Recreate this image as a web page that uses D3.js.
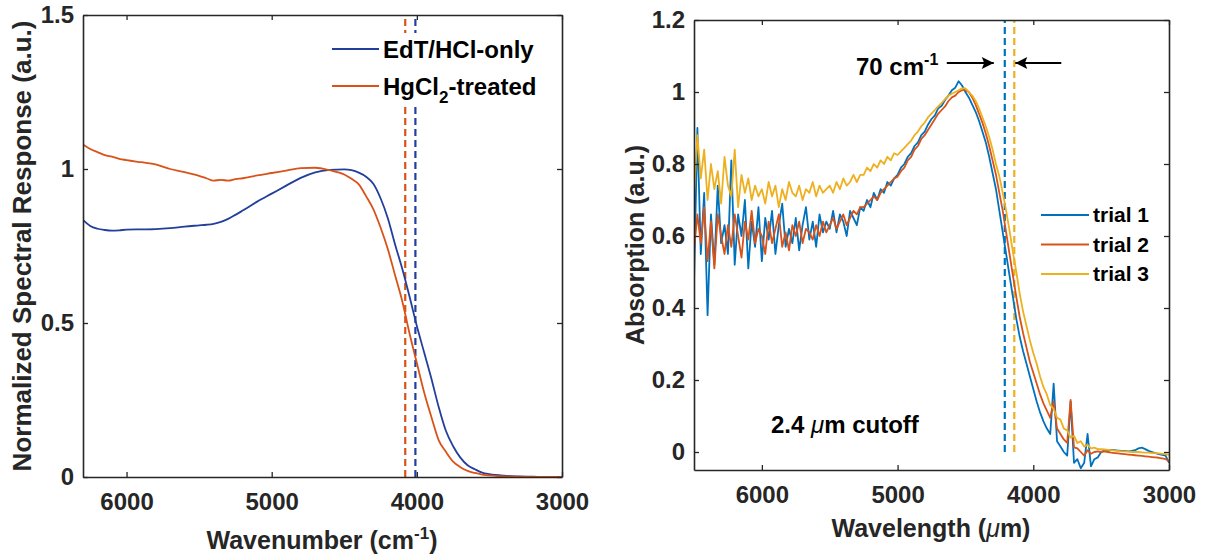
<!DOCTYPE html>
<html>
<head>
<meta charset="utf-8">
<script src="https://cdn.jsdelivr.net/npm/d3@7"></script>
<style>
body { margin: 0; background: white; }
text { font-family: "Liberation Sans", Arial, sans-serif; font-weight: bold; }
</style>
</head>
<body>
<div id="canvas"></div>
<script>
"use strict"

/* ---------- Left panel data (spectral response) ---------- */
let leftWn = [6300, 6250, 6200, 6150, 6100, 6050, 6000, 5900, 5800, 5700,
              5600, 5500, 5450, 5400, 5350, 5300, 5250, 5200, 5100, 5000,
              4900, 4800, 4700, 4600, 4500, 4450, 4400, 4350, 4300, 4250,
              4200, 4150, 4100, 4050, 4000, 3950, 3900, 3850, 3800, 3750,
              3700, 3650, 3600, 3550, 3500, 3400, 3300, 3200, 3100, 3000];

let edtResponse = [0.835, 0.815, 0.806, 0.802, 0.800, 0.801, 0.803, 0.804, 0.805, 0.808,
                   0.813, 0.817, 0.819, 0.822, 0.828, 0.838, 0.851, 0.865, 0.894, 0.920,
                   0.946, 0.971, 0.989, 0.997, 0.999, 0.996, 0.988, 0.975, 0.952, 0.905,
                   0.840, 0.755, 0.675, 0.585, 0.490, 0.405, 0.320, 0.228, 0.150, 0.100,
                   0.063, 0.038, 0.025, 0.014, 0.009, 0.004, 0.002, 0.001, 0.000, 0.000];

let hgResponse = [1.080, 1.065, 1.055, 1.045, 1.040, 1.033, 1.029, 1.022, 1.015, 1.000,
                  0.990, 0.978, 0.970, 0.962, 0.965, 0.962, 0.967, 0.970, 0.979, 0.987,
                  0.995, 1.003, 1.004, 0.996, 0.982, 0.968, 0.950, 0.912, 0.870, 0.810,
                  0.740, 0.655, 0.570, 0.465, 0.370, 0.275, 0.195, 0.120, 0.082, 0.050,
                  0.032, 0.020, 0.013, 0.008, 0.005, 0.002, 0.001, 0.000, 0.000, 0.000];

let leftNames = ["EdT/HCl-only", "HgCl2-treated"];
let leftColors = ["#223f9b", "#d95319"];
let leftCutoffs = [4010, 4080];
let leftXTicks = [6000, 5000, 4000, 3000];
let leftYTicks = [0, 0.5, 1, 1.5];

/* ---------- Right panel data (absorption, 3 trials) ---------- */
let rightWn = d3.range(6500, 2999, -25);

let trial1 = [
  0.47, 0.90, 0.55, 0.72, 0.38, 0.66, 0.52, 0.74, 0.58, 0.63,
  0.55, 0.81, 0.52, 0.66, 0.60, 0.70, 0.51, 0.64, 0.57, 0.68,
  0.53, 0.65, 0.59, 0.67, 0.55, 0.63, 0.69, 0.57, 0.62, 0.58,
  0.65, 0.56, 0.63, 0.68, 0.59, 0.64, 0.57, 0.66, 0.61, 0.64,
  0.62, 0.67, 0.61, 0.66, 0.64, 0.60, 0.67, 0.65, 0.63, 0.68,
  0.67, 0.70, 0.68, 0.72, 0.70, 0.73, 0.72, 0.75, 0.74, 0.76,
  0.77, 0.79, 0.80, 0.82, 0.83, 0.85, 0.86, 0.88, 0.89, 0.91,
  0.925, 0.935, 0.955, 0.962, 0.978, 0.99, 1.005, 1.012, 1.03, 1.018,
  1.00, 0.985, 0.965, 0.945, 0.92, 0.89, 0.86, 0.82, 0.775, 0.73,
  0.67, 0.61, 0.55, 0.49, 0.43, 0.37, 0.32, 0.28, 0.245, 0.21,
  0.175, 0.14, 0.11, 0.085, 0.065, 0.05, 0.19, 0.03, 0.015, 0.0,
  -0.01, 0.14, -0.03, -0.02, -0.045, -0.03, 0.05, -0.04, -0.02, -0.015,
  0.0, 0.005, 0.004, 0.006, 0.005, 0.004, 0.003, 0.003, 0.002, 0.003,
  0.005, 0.01, 0.012, 0.008, 0.003, 0.0, -0.003, -0.006, -0.008, -0.01,
  -0.03];

let trial2 = [
  0.56, 0.66, 0.58, 0.68, 0.53, 0.64, 0.51, 0.66, 0.60, 0.55,
  0.63, 0.57, 0.66, 0.60, 0.54, 0.64, 0.59, 0.67, 0.58, 0.62,
  0.60, 0.55, 0.64, 0.58, 0.62, 0.66, 0.57, 0.61, 0.56, 0.63,
  0.60, 0.64, 0.58, 0.62, 0.61, 0.59, 0.63, 0.60, 0.64, 0.61,
  0.63, 0.65, 0.62, 0.64, 0.66, 0.63, 0.65, 0.67, 0.66, 0.68,
  0.68, 0.69, 0.70, 0.71, 0.70, 0.72, 0.73, 0.74, 0.75, 0.76,
  0.765, 0.78, 0.79, 0.81, 0.82, 0.84, 0.85, 0.87, 0.88, 0.895,
  0.91, 0.925, 0.94, 0.95, 0.96, 0.975, 0.985, 0.99, 1.0, 1.005,
  1.005, 1.0, 0.985, 0.965, 0.94, 0.915, 0.885, 0.85, 0.81, 0.77,
  0.72, 0.67, 0.61, 0.55, 0.49, 0.43, 0.375, 0.33, 0.29, 0.25,
  0.22, 0.19, 0.16, 0.135, 0.115, 0.095, 0.14, 0.065, 0.05, 0.035,
  0.025, 0.145, 0.013, 0.01, 0.0, -0.01, 0.005, -0.005, 0.0, 0.002,
  0.0, 0.002, 0.0, -0.002, -0.003, -0.004, -0.005, -0.006, -0.007, -0.008,
  -0.009, -0.01, -0.011, -0.012, -0.013, -0.014, -0.015, -0.016, -0.018, -0.02,
  -0.025];

let trial3 = [
  0.72, 0.88, 0.76, 0.84, 0.70, 0.80, 0.73, 0.78, 0.69, 0.82,
  0.74, 0.71, 0.84, 0.68, 0.77, 0.72, 0.76, 0.70, 0.74, 0.71,
  0.73, 0.69, 0.75, 0.71, 0.74, 0.68, 0.73, 0.70, 0.75, 0.72,
  0.71, 0.74, 0.70, 0.73, 0.72, 0.75, 0.71, 0.74, 0.72, 0.73,
  0.74, 0.72, 0.75, 0.73, 0.76, 0.74, 0.75, 0.77, 0.75, 0.77,
  0.77, 0.79, 0.78, 0.80, 0.79, 0.81, 0.80, 0.82, 0.81, 0.83,
  0.825, 0.835, 0.845, 0.855, 0.865, 0.88, 0.89, 0.905, 0.915, 0.93,
  0.94, 0.95, 0.96, 0.97, 0.98, 0.99, 0.995, 1.0, 1.005, 1.01,
  1.01, 1.0, 0.99, 0.975, 0.955, 0.93, 0.905, 0.875, 0.84, 0.80,
  0.765, 0.72, 0.67, 0.615, 0.555, 0.50, 0.44, 0.39, 0.35, 0.31,
  0.275, 0.245, 0.21, 0.18, 0.16, 0.13, 0.12, 0.095, 0.09, 0.065,
  0.06, 0.04, 0.045, 0.025, 0.03, 0.015, 0.02, 0.01, 0.012, 0.008,
  0.008, 0.007, 0.006, 0.005, 0.004, 0.003, 0.002, 0.002, 0.001, 0.0,
  0.0, 0.0, -0.001, -0.002, -0.002, -0.003, -0.003, -0.004, -0.005, -0.006,
  -0.008];

let trialNames = ["trial 1", "trial 2", "trial 3"];
let trialColors = ["#0072bd", "#d95319", "#edb120"];
let rightCutoffs = [4210, 4140];
let rightCutoffColors = ["#0072bd", "#edb120"];
let rightXTicks = [6000, 5000, 4000, 3000];
let rightYTicks = [0, 0.2, 0.4, 0.6, 0.8, 1, 1.2];

/* ---------- SVG ---------- */
let drawing = d3.select("#canvas")
    .append("svg")
    .attr("width", 1207)
    .attr("height", 556);

let axisColor = "#262626";

/* helper: box with inward ticks on all four sides */
function drawBox(g, x, y, xTicks, yTicks) {
    let x0 = x.range()[0], x1 = x.range()[1];
    let y0 = y.range()[0], y1 = y.range()[1];

    let bottom = g.append("g")
        .attr("transform", "translate(0," + y0 + ")")
        .call(d3.axisBottom(x).tickValues(xTicks).tickSize(-5).tickSizeOuter(0).tickPadding(16).tickFormat(d => String(d)));
    let top = g.append("g")
        .attr("transform", "translate(0," + y1 + ")")
        .call(d3.axisTop(x).tickValues(xTicks).tickSize(-5).tickSizeOuter(0).tickFormat(""));
    let left = g.append("g")
        .attr("transform", "translate(" + x0 + ",0)")
        .call(d3.axisLeft(y).tickValues(yTicks).tickSize(-5).tickSizeOuter(0).tickPadding(9).tickFormat(d => String(d)));
    let right = g.append("g")
        .attr("transform", "translate(" + x1 + ",0)")
        .call(d3.axisRight(y).tickValues(yTicks).tickSize(-5).tickSizeOuter(0).tickFormat(""));

    [bottom, top, left, right].forEach(a => {
        a.select(".domain").attr("stroke", axisColor).attr("stroke-width", 1.6);
        a.selectAll(".tick line").attr("stroke", axisColor).attr("stroke-width", 1.3);
        a.selectAll("text").attr("fill", axisColor).attr("font-size", 24)
            .style("font-family", "'Liberation Sans', Arial, sans-serif").style("font-weight", "bold");
    });
}

/* ======================= LEFT PANEL ======================= */
let leftX = d3.scaleLinear().domain([6300, 3000]).range([83, 562]);
let leftY = d3.scaleLinear().domain([0, 1.5]).range([477, 15]);

let leftPanel = drawing.append("g");

drawing.append("clipPath").attr("id", "clipLeft")
    .append("rect")
    .attr("x", 83).attr("y", 15).attr("width", 562 - 83).attr("height", 477 - 15);

let leftSeries = [edtResponse, hgResponse];

/* cutoff dashed lines */
leftPanel.selectAll(".cutL")
    .data(leftCutoffs)
    .enter()
    .append("line")
    .attr("x1", d => leftX(d)).attr("x2", d => leftX(d))
    .attr("y1", leftY(0)).attr("y2", leftY(1.5))
    .attr("stroke", (d, i) => leftColors[i])
    .attr("stroke-width", 2.2)
    .attr("stroke-dasharray", "7,4");

/* response curves */
let leftLine = d3.line()
    .x((d, i) => leftX(leftWn[i]))
    .y(d => leftY(d))
    .curve(d3.curveMonotoneX);

leftPanel.append("g").attr("clip-path", "url(#clipLeft)")
    .selectAll("path")
    .data(leftSeries)
    .enter()
    .append("path")
    .attr("d", d => leftLine(d))
    .attr("fill", "none")
    .attr("stroke", (d, i) => leftColors[i])
    .attr("stroke-width", 1.8);

/* legend (white background hides dashed lines) */
let leftLegend = leftPanel.append("g");
leftLegend.append("rect")
    .attr("x", 326).attr("y", 33).attr("width", 230).attr("height", 72)
    .attr("fill", "white");
leftLegend.selectAll(".ll")
    .data(leftNames)
    .enter()
    .append("line")
    .attr("x1", 332).attr("x2", 379)
    .attr("y1", (d, i) => 49 + i * 37).attr("y2", (d, i) => 49 + i * 37)
    .attr("stroke", (d, i) => leftColors[i])
    .attr("stroke-width", 1.8);
leftLegend.append("text")
    .attr("x", 383).attr("y", 58)
    .attr("font-size", 24).attr("fill", "black")
    .text(leftNames[0]);
let hgText = leftLegend.append("text")
    .attr("x", 383).attr("y", 95)
    .attr("font-size", 24).attr("fill", "black");
hgText.append("tspan").text("HgCl");
hgText.append("tspan").attr("dy", 8).attr("font-size", 17).text("2");
hgText.append("tspan").attr("dy", -8).text("-treated");

drawBox(leftPanel, leftX, leftY, leftXTicks, leftYTicks);

/* axis titles */
let leftXTitle = leftPanel.append("text")
    .attr("x", 322).attr("y", 549)
    .attr("text-anchor", "middle")
    .attr("font-size", 25).attr("fill", axisColor);
leftXTitle.append("tspan").text("Wavenumber (cm");
leftXTitle.append("tspan").attr("dy", -10).attr("font-size", 17).text("-1");
leftXTitle.append("tspan").attr("dy", 10).text(")");

leftPanel.append("text")
    .attr("transform", "translate(31,246) rotate(-90)")
    .attr("text-anchor", "middle")
    .attr("font-size", 26).attr("fill", axisColor)
    .text("Normalized Spectral Response (a.u.)");

/* ======================= RIGHT PANEL ======================= */
let rightX = d3.scaleLinear().domain([6500, 3000]).range([694, 1169]);
let rightY = d3.scaleLinear().domain([-0.05, 1.2]).range([470, 20]);

let rightPanel = drawing.append("g");

drawing.append("clipPath").attr("id", "clipRight")
    .append("rect")
    .attr("x", 694).attr("y", 20).attr("width", 1169 - 694).attr("height", 470 - 20);

/* cutoff dashed lines */
rightPanel.selectAll(".cutR")
    .data(rightCutoffs)
    .enter()
    .append("line")
    .attr("x1", d => rightX(d)).attr("x2", d => rightX(d))
    .attr("y1", rightY(0)).attr("y2", rightY(1.2))
    .attr("stroke", (d, i) => rightCutoffColors[i])
    .attr("stroke-width", 2.2)
    .attr("stroke-dasharray", "7,4");

let trials = [trial1, trial2, trial3];

let rightLine = d3.line()
    .x((d, i) => rightX(rightWn[i]))
    .y(d => rightY(d));

rightPanel.append("g").attr("clip-path", "url(#clipRight)")
    .selectAll("path")
    .data(trials)
    .enter()
    .append("path")
    .attr("d", d => rightLine(d))
    .attr("fill", "none")
    .attr("stroke", (d, i) => trialColors[i])
    .attr("stroke-width", 1.8)
    .attr("stroke-linejoin", "round");

/* legend */
let rightLegend = rightPanel.append("g");
rightLegend.append("rect")
    .attr("x", 1034).attr("y", 196).attr("width", 128).attr("height", 94)
    .attr("fill", "white");
rightLegend.selectAll("line")
    .data(trialNames)
    .enter()
    .append("line")
    .attr("x1", 1041).attr("x2", 1089)
    .attr("y1", (d, i) => 215 + i * 29.5).attr("y2", (d, i) => 215 + i * 29.5)
    .attr("stroke", (d, i) => trialColors[i])
    .attr("stroke-width", 2.2);
rightLegend.selectAll("text")
    .data(trialNames)
    .enter()
    .append("text")
    .attr("x", 1093)
    .attr("y", (d, i) => 222 + i * 29.5)
    .attr("font-size", 21).attr("fill", "black")
    .text(d => d);

drawBox(rightPanel, rightX, rightY, rightXTicks, rightYTicks);

/* annotations: 70 cm-1 with arrows, cutoff label */
drawing.append("defs").append("marker")
    .attr("id", "arrowHead")
    .attr("viewBox", "0 0 10 10")
    .attr("refX", 10).attr("refY", 5)
    .attr("markerWidth", 15).attr("markerHeight", 12)
    .attr("markerUnits", "userSpaceOnUse")
    .attr("orient", "auto")
    .append("path")
    .attr("d", "M0,0 L10,5 L0,10 L2,5 Z")
    .attr("fill", "black");

let arrowY = 63;
rightPanel.append("line")
    .attr("x1", rightX(rightCutoffs[0]) - 58).attr("x2", rightX(rightCutoffs[0]) - 11)
    .attr("y1", arrowY).attr("y2", arrowY)
    .attr("stroke", "black").attr("stroke-width", 2)
    .attr("marker-end", "url(#arrowHead)");
rightPanel.append("line")
    .attr("x1", rightX(rightCutoffs[1]) + 47).attr("x2", rightX(rightCutoffs[1]) + 1)
    .attr("y1", arrowY).attr("y2", arrowY)
    .attr("stroke", "black").attr("stroke-width", 2)
    .attr("marker-end", "url(#arrowHead)");

let gapText = rightPanel.append("text")
    .attr("x", 856).attr("y", 75)
    .attr("font-size", 24).attr("fill", "black");
gapText.append("tspan").text("70 cm");
gapText.append("tspan").attr("dy", -10).attr("font-size", 16).text("-1");

let cutText = rightPanel.append("text")
    .attr("x", 771).attr("y", 433)
    .attr("font-size", 24).attr("fill", "black");
cutText.append("tspan").text("2.4 ");
cutText.append("tspan").style("font-style", "italic").style("font-weight", "normal").text("\u03bc");
cutText.append("tspan").text("m cutoff");

let rightXTitle = rightPanel.append("text")
    .attr("x", 931).attr("y", 537)
    .attr("text-anchor", "middle")
    .attr("font-size", 25).attr("fill", axisColor);
rightXTitle.append("tspan").text("Wavelength (");
rightXTitle.append("tspan").style("font-style", "italic").style("font-weight", "normal").text("\u03bc");
rightXTitle.append("tspan").text("m)");

rightPanel.append("text")
    .attr("transform", "translate(644,245) rotate(-90)")
    .attr("text-anchor", "middle")
    .attr("font-size", 25).attr("fill", axisColor)
    .text("Absorption (a.u.)");
</script>
</body>
</html>
